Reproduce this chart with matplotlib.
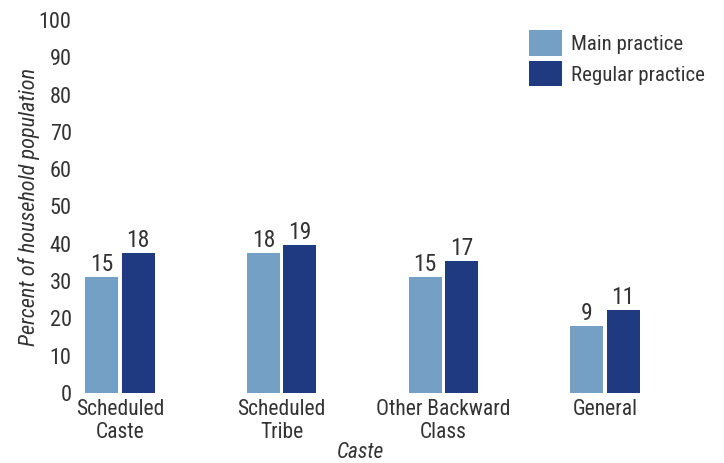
import matplotlib
matplotlib.use("Agg")
import matplotlib.pyplot as plt
from matplotlib import font_manager
import numpy as np

# Values
categories = ["Scheduled\nCaste", "Scheduled\nTribe", "Other Backward\nClass", "General"]
main_heights = [31.1, 37.5, 31.1, 18.0]
regular_heights = [37.5, 39.7, 35.4, 22.3]
main_labels = ["15", "18", "15", "9"]
regular_labels = ["18", "19", "17", "11"]
yticks = list(range(0, 101, 10))

names = {f.name for f in font_manager.fontManager.ttflist}
fam = [n for n in ["Roboto Condensed", "Liberation Sans Narrow", "DejaVu Sans Condensed"] if n in names]
plt.rcParams['font.family'] = fam + ["DejaVu Sans"]

light = "#74a0c6"
dark = "#203a82"
text_col = "#333333"

fig = plt.figure(figsize=(7.24, 4.63), dpi=100)
ax = fig.add_axes([80 / 724, 70 / 463, 635 / 724, 373 / 463])

x = np.arange(len(categories))
w = 0.204
off = 0.112
b1 = ax.bar(x - off, main_heights, w, color=light, label="Main practice")
b2 = ax.bar(x + off, regular_heights, w, color=dark, label="Regular practice")

for bars, labs in [(b1, main_labels), (b2, regular_labels)]:
    for r, lab in zip(bars, labs):
        ax.text(r.get_x() + r.get_width() / 2, r.get_height() + 0.2, lab,
                ha="center", va="bottom", fontsize=17, color=text_col)

ax.set_xlim(-0.247, 3.68)
ax.set_ylim(0, 100)
ax.set_yticks(yticks)
ax.set_xticks(x)
ax.set_xticklabels(categories, fontsize=15.5, color=text_col, linespacing=1.15)
ax.tick_params(axis="y", labelsize=16, labelcolor=text_col, length=0, pad=6)
ax.tick_params(axis="x", length=0, pad=4)
for s in ax.spines.values():
    s.set_visible(False)

ax.set_ylabel("Percent of household population", fontsize=16, style="italic",
              color=text_col)
ax.yaxis.set_label_coords(-40 / 635, 0.5)
fig.text(360 / 724, 10 / 463, "Caste", fontsize=15.5, style="italic",
         color=text_col, ha="center", va="center")

ax.legend(loc="upper right", bbox_to_anchor=(1.0, 1.0), frameon=False, fontsize=15,
          handlelength=1.6, handleheight=1.5, handletextpad=0.4, labelspacing=0.25,
          borderaxespad=0.1, labelcolor=text_col)

fig.savefig("out.png", dpi=100)
